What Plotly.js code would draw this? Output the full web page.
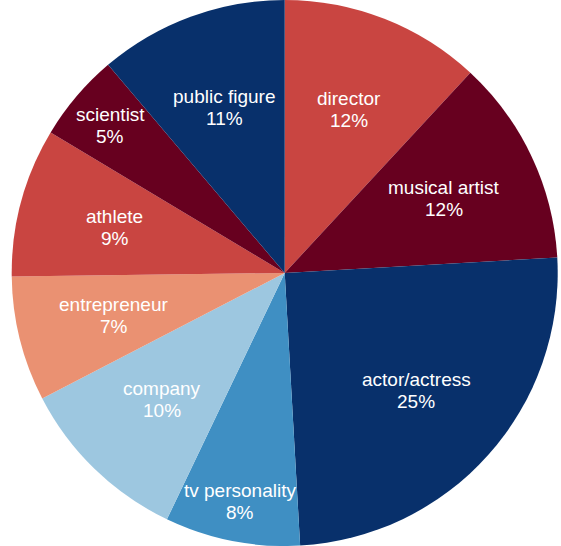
<!DOCTYPE html>
<html>
<head>
<meta charset="utf-8">
<script src="https://cdn.plot.ly/plotly-3.0.1.min.js"></script>
<style>html,body{margin:0;padding:0;background:#fff;}#chart{width:561px;height:546px;}</style>
</head>
<body>
<div id="chart"></div>
<script>
const categories = ["director", "musical artist", "actor/actress", "tv personality", "company", "entrepreneur", "athlete", "scientist", "public figure"];
const shares = [11.9, 12.2, 25.0, 8.0, 10.3, 7.4, 8.8, 5.2, 11.2];
const colors = ["#c94541", "#67001f", "#08306b", "#3f8fc3", "#9dc7e0", "#ea9172", "#c94541", "#67001f", "#08306b"];

const FONT_FAMILY = "Liberation Sans, Arial, sans-serif";
const FONT_SIZE = 19;
const LINE_GAP = 22;

Plotly.newPlot("chart", [{
  type: "pie",
  labels: categories,
  values: shares,
  sort: false,
  direction: "clockwise",
  rotation: 0,
  marker: {colors: colors, line: {width: 0}},
  textinfo: "none",
  hoverinfo: "label+percent",
  domain: {x: [0.015, 1], y: [0, 1]}
}], {
  width: 561,
  height: 546,
  margin: {l: 0, r: 0, t: 0, b: 0},
  showlegend: false,
  paper_bgcolor: "#ffffff"
}, {displayModeBar: false, staticPlot: true}).then(function(gd) {
  const cd = gd.calcdata[0];
  const cx = cd[0].cx, cy = cd[0].cy, R = cd[0].r;
  const W = gd._fullLayout.width, H = gd._fullLayout.height;
  const total = shares.reduce((a, b) => a + b, 0);
  const ctx = document.createElement("canvas").getContext("2d");
  ctx.font = FONT_SIZE + "px " + FONT_FAMILY;

  function violation(r, a0, a1, w, h) {
    const am = (a0 + a1) / 2;
    const px = r * Math.sin(am), py = -r * Math.cos(am);
    let worst = -Infinity;
    const pad = 0;
    [[-1, -1], [1, -1], [-1, 1], [1, 1]].forEach(function(s) {
      const x = px + s[0] * w / 2, y = py + s[1] * h / 2;
      const rho = Math.hypot(x, y);
      let phi = Math.atan2(x, -y);
      while (phi < a0 - Math.PI) phi += 2 * Math.PI;
      while (phi > a0 + Math.PI) phi -= 2 * Math.PI;
      const d0 = rho * Math.sin(phi - a0);
      const d1 = rho * Math.sin(a1 - phi);
      worst = Math.max(worst, pad - d0, pad - d1, rho - R);
    });
    return worst;
  }

  const annotations = [];
  let cum = 0;
  categories.forEach(function(lab, i) {
    const a0 = cum / total * 2 * Math.PI;
    cum += shares[i];
    const a1 = cum / total * 2 * Math.PI;
    const pct = Math.round(shares[i] / total * 100) + "%";
    const w = Math.max(ctx.measureText(lab).width, ctx.measureText(pct).width);
    const h = LINE_GAP + 12;
    let best = null, bestV = Infinity;
    for (let r = 0.645 * R; r <= R; r += 0.5) {
      const v = violation(r, a0, a1, w, h);
      if (v <= 0) { best = r; break; }
      if (v < bestV) { bestV = v; best = r; }
    }
    const am = (a0 + a1) / 2;
    const px = cx + best * Math.sin(am);
    const py = cy - best * Math.cos(am);
    [[lab, -LINE_GAP / 2], [pct, LINE_GAP / 2]].forEach(function(t) {
      annotations.push({
        xref: "paper", yref: "paper",
        x: px / W, y: 1 - (py + t[1]) / H,
        xanchor: "center", yanchor: "middle",
        text: t[0], showarrow: false,
        font: {family: FONT_FAMILY, size: FONT_SIZE, color: "#ffffff"}
      });
    });
  });
  return Plotly.relayout(gd, {annotations: annotations});
});
</script>
</body>
</html>
